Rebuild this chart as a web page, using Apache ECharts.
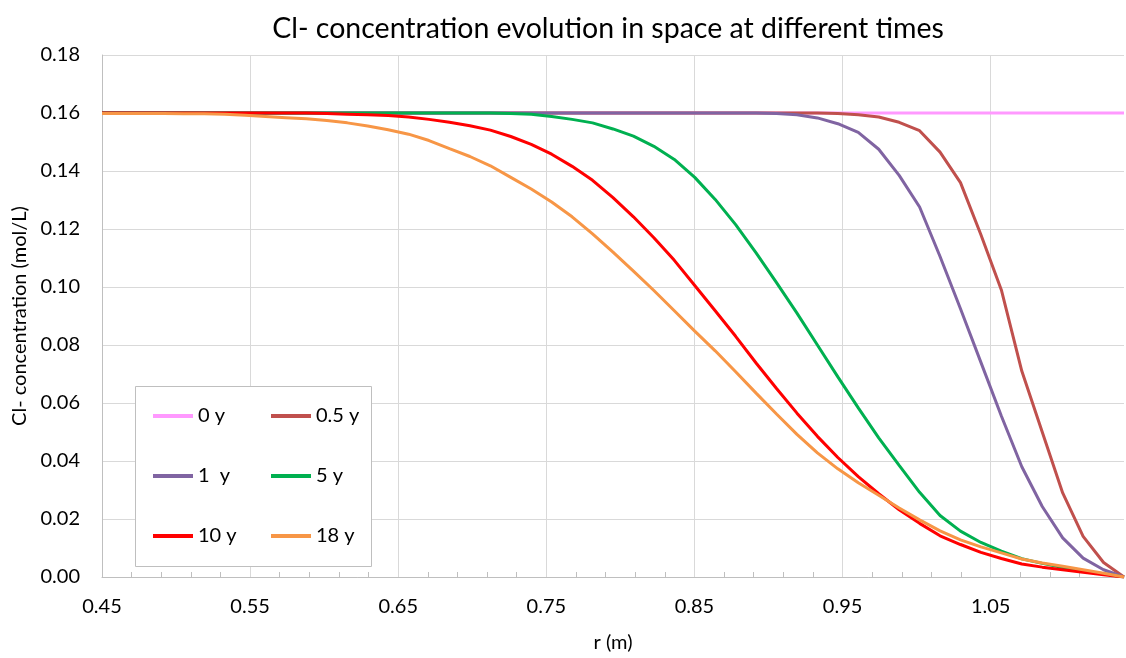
<!DOCTYPE html>
<html>
<head>
<meta charset="utf-8">
<script src="https://cdn.jsdelivr.net/npm/echarts@6/dist/echarts.min.js"></script>
<style>html,body{margin:0;padding:0;background:#fff}#c{width:1126px;height:658px}</style>
</head>
<body>
<div id="c"></div>
<script>
// Radius positions (m)
const rValues = [0.45,0.4638,0.4776,0.4914,0.5052,0.519,0.5328,0.5466,0.5604,0.5742,
  0.588,0.6018,0.6156,0.6294,0.6432,0.657,0.6708,0.6846,0.6984,0.7122,
  0.726,0.7398,0.7536,0.7674,0.7812,0.795,0.8088,0.8226,0.8364,0.8502,
  0.864,0.8778,0.8916,0.9054,0.9192,0.933,0.9468,0.9606,0.9744,0.9882,
  1.002,1.0158,1.0296,1.0434,1.0572,1.071,1.0848,1.0986,1.1124,1.1262,1.14];

const c0y = [0.16,0.16,0.16,0.16,0.16,0.16,0.16,0.16,0.16,0.16,
  0.16,0.16,0.16,0.16,0.16,0.16,0.16,0.16,0.16,0.16,
  0.16,0.16,0.16,0.16,0.16,0.16,0.16,0.16,0.16,0.16,
  0.16,0.16,0.16,0.16,0.16,0.16,0.16,0.16,0.16,0.16,
  0.16,0.16,0.16,0.16,0.16,0.16,0.16,0.16,0.16,0.16,0.16];

const c05y = [0.16,0.16,0.16,0.16,0.16,0.16,0.16,0.16,0.16,0.16,
  0.16,0.16,0.16,0.16,0.16,0.16,0.16,0.16,0.16,0.16,
  0.16,0.16,0.16,0.16,0.16,0.16,0.16,0.16,0.16,0.16,
  0.16,0.16,0.16,0.16,0.16,0.16,0.1598,0.1594,0.1586,0.1568,
  0.1539,0.1465,0.136,0.118,0.099,0.071,0.05,0.029,0.014,0.005,0];

const c1y = [0.16,0.16,0.16,0.16,0.16,0.16,0.16,0.16,0.16,0.16,
  0.16,0.16,0.16,0.16,0.16,0.16,0.16,0.16,0.16,0.16,
  0.16,0.16,0.16,0.16,0.16,0.16,0.16,0.16,0.16,0.16,
  0.16,0.16,0.16,0.1598,0.1594,0.1583,0.1563,0.1533,0.1475,0.1385,
  0.1276,0.1105,0.0925,0.074,0.0555,0.038,0.0243,0.0135,0.0065,0.0025,0];

const c5y = [0.16,0.16,0.16,0.16,0.16,0.16,0.16,0.16,0.16,0.16,
  0.16,0.16,0.16,0.16,0.16,0.16,0.16,0.16,0.16,0.16,
  0.1598,0.1596,0.1588,0.1578,0.1566,0.1545,0.152,0.1485,0.144,0.1378,
  0.1302,0.1215,0.1118,0.1015,0.091,0.08,0.069,0.0583,0.048,0.0385,
  0.0292,0.0212,0.0158,0.0119,0.0089,0.0063,0.0047,0.0033,0.0021,0.0011,0];

const c10y = [0.16,0.16,0.16,0.16,0.16,0.16,0.16,0.16,0.16,0.16,
  0.16,0.1598,0.1596,0.1594,0.1591,0.1586,0.1578,0.1568,0.1556,0.1541,
  0.1519,0.1492,0.1458,0.1416,0.1368,0.1308,0.1242,0.117,0.1092,0.1005,
  0.0918,0.083,0.0738,0.065,0.0565,0.0485,0.0412,0.0346,0.0287,0.0232,
  0.0185,0.0142,0.0112,0.0085,0.0064,0.0045,0.0034,0.0025,0.0016,0.0008,0];

const c18y = [0.1598,0.1598,0.1598,0.1598,0.1597,0.1597,0.1596,0.1592,0.1588,0.1584,
  0.158,0.1574,0.1566,0.1555,0.1542,0.1527,0.1505,0.1477,0.145,0.1418,
  0.1378,0.1338,0.1293,0.1242,0.1183,0.112,0.1055,0.0988,0.0918,0.0848,
  0.078,0.0708,0.0634,0.0562,0.0492,0.0428,0.0373,0.0325,0.0282,0.0238,
  0.0197,0.0159,0.0128,0.0104,0.0083,0.0062,0.0048,0.0037,0.0025,0.0013,0];

const seriesNames = ['0 y','0.5 y','1  y','5 y','10 y','18 y'];
const seriesColors = ['#FF99FF','#C0504D','#8064A2','#00B050','#FF0000','#F79646'];
const seriesValues = [c0y,c05y,c1y,c5y,c10y,c18y];

const titleText = 'Cl- concentration evolution in space at different times';
const xTitle = 'r (m)';
const yTitle = 'Cl- concentration (mol/L)';
const xStart = 0.45, xEnd = 1.14;   // axis range, labels 0.45 ... 1.05 step 0.1
const yMax = 0.18;

const FONT = 'Lato, "Liberation Sans", sans-serif';

const chart = echarts.init(document.getElementById('c'), null, {renderer: 'canvas'});

// x axis offset so ticks start at the axis minimum (0.45)
const series = seriesValues.map((vals, i) => ({
  name: seriesNames[i],
  type: 'line',
  data: vals.map((v, j) => [rValues[j] - xStart, v]),
  showSymbol: false,
  symbol: 'none',
  lineStyle: {width: 3, color: seriesColors[i]},
  itemStyle: {color: seriesColors[i]},
  z: 2 + i
}));

const legendCommon = {
  orient: 'vertical',
  itemWidth: 40,
  itemHeight: 4,
  itemGap: 40,
  icon: 'rect',
  selectedMode: false,
  padding: 0,
  z: 30,
  textStyle: {fontFamily: FONT, fontSize: 20, color: '#000', lineHeight: 20}
};

chart.setOption({
  animation: false,
  backgroundColor: '#fff',
  title: {
    text: titleText,
    left: 608,
    textAlign: 'center',
    top: 14,
    padding: 0,
    textStyle: {fontFamily: FONT, fontSize: 28.5, fontWeight: 'normal', color: '#000'}
  },
  grid: {left: 102, right: 2, top: 55, bottom: 77, containLabel: false},
  legend: [
    Object.assign({}, legendCommon, {left: 153, top: 406, data: [seriesNames[0], seriesNames[2], seriesNames[4]]}),
    Object.assign({}, legendCommon, {left: 271, top: 406, data: [seriesNames[1], seriesNames[3], seriesNames[5]]})
  ],
  graphic: [{
    type: 'rect', z: 20,
    shape: {x: 135.5, y: 386.5, width: 236, height: 180},
    style: {fill: '#fff', stroke: '#BFBFBF', lineWidth: 1}
  }],
  xAxis: {
    type: 'value',
    min: 0,
    max: +(xEnd - xStart).toFixed(4),
    interval: 0.1,
    name: xTitle,
    nameLocation: 'middle',
    nameGap: 56,
    nameTextStyle: {fontFamily: FONT, fontSize: 20, color: '#000'},
    axisLine: {show: true, lineStyle: {color: '#BFBFBF', width: 1}},
    axisTick: {show: false, inside: true},
    minorTick: {show: true, splitNumber: 5, length: 5, lineStyle: {color: '#BFBFBF'}},
    splitLine: {show: true, showMaxLine: false, lineStyle: {color: '#D9D9D9', width: 1}},
    axisLabel: {
      margin: 20, showMaxLabel: false,
      fontFamily: FONT, fontSize: 20, color: '#000',
      formatter: v => (v + xStart).toFixed(2)
    }
  },
  yAxis: {
    type: 'value',
    min: 0,
    max: yMax,
    interval: 0.02,
    name: yTitle,
    nameLocation: 'middle',
    nameGap: 70,
    nameTextStyle: {fontFamily: FONT, fontSize: 20, color: '#000'},
    axisLine: {show: true, lineStyle: {color: '#BFBFBF', width: 1}},
    axisTick: {show: false},
    splitLine: {show: true, lineStyle: {color: '#D9D9D9', width: 1}},
    axisLabel: {
      margin: 22,
      fontFamily: FONT, fontSize: 20, color: '#000',
      formatter: v => v.toFixed(2)
    }
  },
  series: series
});
</script>
</body>
</html>
